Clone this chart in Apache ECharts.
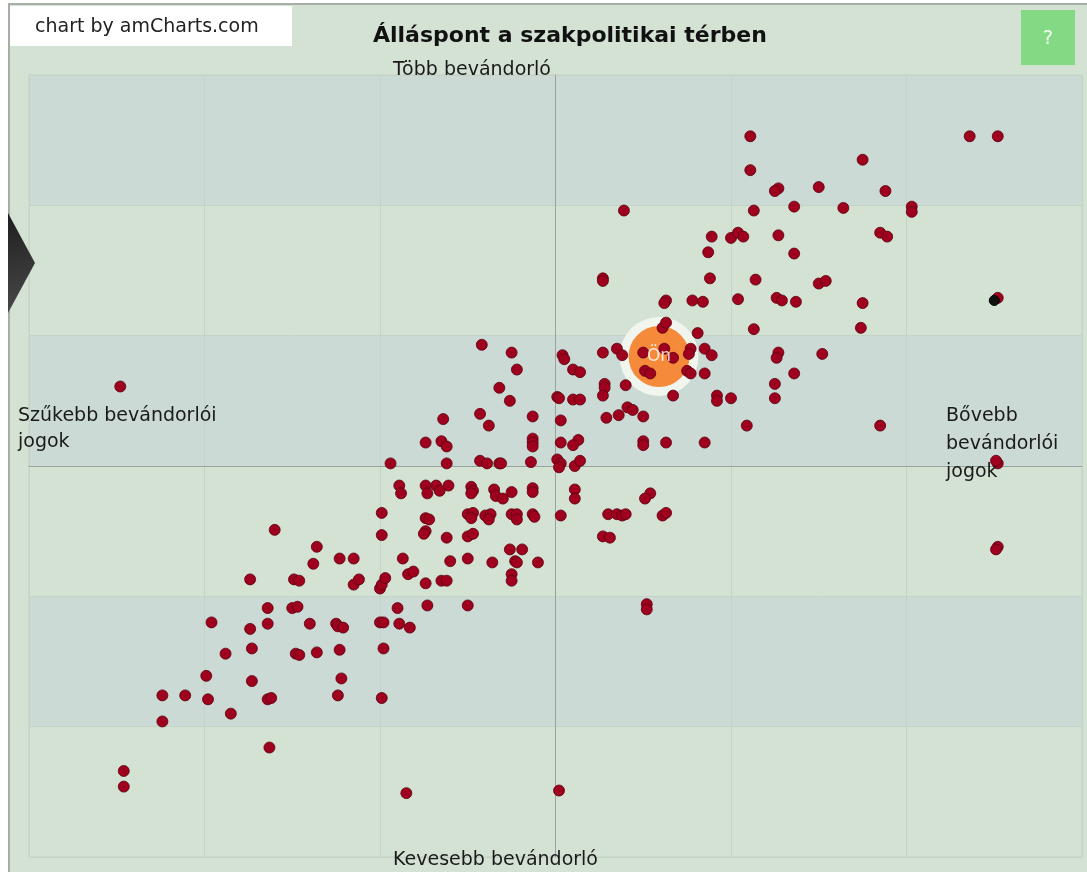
<!DOCTYPE html>
<html><head><meta charset="utf-8">
<script src="https://cdn.jsdelivr.net/npm/echarts@6/dist/echarts.min.js"></script>
<style>
html,body{margin:0;padding:0;background:#fff;}
#frame{position:absolute;left:8px;top:3px;width:1079px;height:869px;background:#d4e2d4;border-left:2px solid #a7aea7;border-top:2px solid #a7aea7;box-sizing:border-box;}
#chart{position:absolute;left:0;top:0;width:1087px;height:872px;}
</style></head>
<body><div id="frame"></div><div id="chart"></div>
<script>
// ---- data ----
const chartTitle = 'Álláspont a szakpolitikai térben';
const labelTop = 'Több bevándorló';
const labelBottom = 'Kevesebb bevándorló';
const labelLeft = ['Szűkebb bevándorlói', 'jogok'];
const labelRight = ['Bővebb', 'bevándorlói', 'jogok'];
const creditText = 'chart by amCharts.com';
const youLabel = 'Ön';
const axisMin = -3, axisMax = 3, axisStep = 1;
// [rights axis, immigration axis]
const respondents = [
 [1.11,2.53],[1.75,2.35],[1.11,2.27],[1.27,2.13],[1.25,2.11],[1.50,2.14],[1.88,2.11],[0.39,1.96],[1.13,1.96],[1.36,1.99],[1.64,1.98],[2.03,1.99],[2.03,1.95],[0.89,1.76],[1.00,1.75],[1.04,1.79],[1.07,1.76],[1.27,1.77],[1.85,1.79],[1.89,1.76],[0.87,1.64],[1.36,1.63],[0.27,1.44],[0.27,1.42],[0.88,1.44],[1.14,1.43],[1.50,1.40],[1.54,1.42],[0.63,1.27],[0.62,1.25],[0.78,1.27],[0.84,1.26],[1.04,1.28],[1.26,1.29],[1.29,1.27],[1.37,1.26],[1.75,1.25],[0.61,1.06],[0.63,1.10],[0.81,1.02],[1.13,1.05],[1.74,1.06],[2.36,2.53],[2.52,2.53],[2.52,1.29],
 [-0.42,0.93],[-0.25,0.87],[-0.22,0.74],[0.04,0.85],[0.05,0.82],[0.27,0.87],[0.35,0.90],[0.38,0.85],[0.50,0.87],[0.62,0.90],[0.10,0.74],[0.14,0.72],[0.51,0.73],[0.54,0.71],[-0.32,0.60],[-0.26,0.50],[0.01,0.53],[0.02,0.52],[0.10,0.51],[0.14,0.51],[0.28,0.63],[0.28,0.60],[0.27,0.54],[0.40,0.62],[-0.64,0.36],[-0.43,0.40],[-0.38,0.31],[-0.13,0.38],[0.03,0.35],[0.29,0.37],[0.36,0.39],[0.41,0.45],[0.44,0.43],[0.50,0.38],[-0.74,0.18],[-0.65,0.19],[-0.62,0.15],[-0.13,0.21],[-0.13,0.18],[-0.13,0.15],[0.03,0.18],[0.13,0.20],[0.10,0.16],[0.50,0.19],[0.50,0.16],[0.63,0.18],[-0.94,0.02],[-0.62,0.02],[-0.43,0.04],[-0.39,0.02],[-0.32,0.02],[-0.31,0.02],[-0.14,0.03],[0.01,0.05],[0.03,0.02],[0.02,-0.01],[0.11,0.00],[0.14,0.04],
 [-0.89,-0.15],[-0.88,-0.21],[-0.74,-0.15],[-0.73,-0.21],[-0.68,-0.15],[-0.66,-0.19],[-0.61,-0.15],[-0.48,-0.16],[-0.47,-0.19],[-0.48,-0.21],[-0.35,-0.18],[-0.34,-0.23],[-0.30,-0.25],[-0.25,-0.20],[-0.13,-0.17],[-0.13,-0.20],[0.11,-0.18],[0.11,-0.25],[0.54,-0.21],[0.51,-0.25],[-0.99,-0.36],[-0.74,-0.40],[-0.72,-0.41],[-0.50,-0.37],[-0.47,-0.36],[-0.48,-0.40],[-0.40,-0.38],[-0.37,-0.37],[-0.38,-0.41],[-0.25,-0.37],[-0.22,-0.37],[-0.22,-0.41],[-0.13,-0.37],[-0.12,-0.39],[0.03,-0.38],[0.30,-0.37],[0.35,-0.37],[0.38,-0.38],[0.40,-0.37],[0.61,-0.38],[0.63,-0.36],[-0.99,-0.53],[-0.74,-0.50],[-0.75,-0.52],[-0.62,-0.55],[-0.50,-0.54],[-0.47,-0.52],[0.27,-0.54],[0.31,-0.55],[-0.26,-0.64],[-0.19,-0.64],[-0.87,-0.71],[-0.60,-0.73],[-0.50,-0.71],[-0.36,-0.74],[-0.23,-0.73],[-0.22,-0.74],[-0.10,-0.74],
 [0.67,0.83],[0.77,0.90],[0.76,0.86],[0.85,0.90],[0.89,0.85],[1.27,0.87],[1.26,0.83],[1.52,0.86],[0.75,0.73],[0.77,0.71],[0.85,0.71],[1.36,0.71],[1.25,0.63],[0.67,0.54],[0.92,0.54],[0.92,0.50],[1.00,0.52],[1.25,0.52],[1.09,0.31],[0.85,0.18],[1.85,0.31],[2.52,0.02],[2.51,0.04],[0.52,-1.06],[0.52,-1.10],[2.52,-0.62],[2.51,-0.64],
 [-2.48,0.61],[-1.60,-0.49],[-1.36,-0.62],[-1.23,-0.71],[-1.15,-0.71],[-1.38,-0.75],[-1.74,-0.87],[-1.49,-0.87],[-1.46,-0.88],[-1.15,-0.91],[-1.12,-0.87],[-1.00,-0.94],[-0.99,-0.91],[-0.97,-0.86],[-0.84,-0.83],[-0.81,-0.81],[-0.74,-0.90],[-0.65,-0.88],[-0.62,-0.88],[-0.25,-0.83],[-0.25,-0.88],[-0.73,-1.07],[-0.50,-1.07],[-1.64,-1.09],[-1.50,-1.09],[-1.47,-1.08],[-0.90,-1.09],[-1.96,-1.20],[-1.74,-1.25],[-1.64,-1.21],[-1.40,-1.21],[-1.25,-1.21],[-1.24,-1.23],[-1.21,-1.24],[-1.00,-1.20],[-0.98,-1.20],[-0.89,-1.21],[-0.83,-1.24],[-1.88,-1.44],[-1.73,-1.40],[-1.48,-1.44],[-1.46,-1.45],[-1.36,-1.43],[-1.23,-1.41],[-0.98,-1.40],[-1.99,-1.61],[-1.73,-1.65],[-1.22,-1.63],[-2.24,-1.76],[-2.11,-1.76],[-1.98,-1.79],[-1.64,-1.79],[-1.62,-1.78],[-1.24,-1.76],[-0.99,-1.78],[-1.85,-1.90],[-2.24,-1.96],[-1.63,-2.16],[-2.46,-2.34],[-2.46,-2.46],[-0.85,-2.51],[0.02,-2.49]
];
const youPoint = [[0.59, 0.84]];
const markedPoint = [[2.50, 1.27]];

// ---- chart ----
const FONT = 'DejaVu Sans';
const chart = echarts.init(document.getElementById('chart'), null, {renderer: 'canvas'});
function txt(text, x, y, size, opts) {
  return Object.assign({type: 'text', x: x, y: y, z: 100,
    style: Object.assign({text: text, font: (size) + 'px "' + FONT + '"', fill: '#1a1a1a', textVerticalAlign: 'middle', verticalAlign: 'middle'}, opts || {})});
}
const option = {
  backgroundColor: 'transparent',
  animation: false,
  textStyle: {fontFamily: FONT},
  title: {text: chartTitle, left: 373, top: 25, padding: 0,
    textStyle: {fontSize: 22, fontWeight: 'bold', color: '#111', fontFamily: FONT}},
  grid: {left: 29, right: 5, top: 75, bottom: 15, show: true, borderColor: '#c4d3c6', borderWidth: 1, backgroundColor: 'transparent'},
  xAxis: {type: 'value', min: axisMin, max: axisMax, interval: axisStep,
    axisLine: {show: true, onZero: true, lineStyle: {color: '#98a39c', width: 1}},
    axisTick: {show: false}, axisLabel: {show: false},
    splitLine: {show: true, lineStyle: {color: '#c4d3c6', width: 1}}},
  yAxis: {type: 'value', min: axisMin, max: axisMax, interval: axisStep,
    axisLine: {show: true, onZero: true, lineStyle: {color: '#98a39c', width: 1}},
    axisTick: {show: false}, axisLabel: {show: false},
    splitLine: {show: true, lineStyle: {color: '#c4d3c6', width: 1}},
    splitArea: {show: true, areaStyle: {color: ['rgba(0,0,0,0)', '#cbdad4']}}},
  graphic: [
    {type: 'rect', shape: {x: 10, y: 6, width: 282, height: 40}, style: {fill: '#ffffff'}, z: 90},
    txt(creditText, 35, 27, 19, {fill: '#222'}),
    {type: 'rect', shape: {x: 1021, y: 10, width: 54, height: 55}, style: {fill: '#84d984'}, z: 90},
    txt('?', 1048, 39, 19, {fill: '#f4fff4', textAlign: 'center', align: 'center'}),
    {type: 'polygon', shape: {points: [[8, 213], [35, 263], [8, 313]]}, z: 90,
      style: {fill: new echarts.graphic.LinearGradient(0, 0, 1, 1, [{offset: 0, color: '#1e1e1e'}, {offset: 1, color: '#4a4a4a'}])}},
    txt(labelTop, 393, 70, 19),
    txt(labelBottom, 393, 860, 19),
    txt(labelLeft[0], 18, 416, 19),
    txt(labelLeft[1], 18, 442, 19),
    txt(labelRight[0], 946, 416, 19),
    txt(labelRight[1], 946, 444, 19),
    txt(labelRight[2], 946, 472, 19)
  ],
  series: [
    {type: 'scatter', data: youPoint, symbolSize: 79, z: 2, silent: true,
      itemStyle: {color: '#f1f7ef', opacity: 0.95}},
    {type: 'scatter', data: youPoint, symbolSize: 61, z: 3, silent: true,
      itemStyle: {color: '#f58a3a', opacity: 1}},
    {type: 'scatter', data: respondents, symbolSize: 11, z: 4,
      itemStyle: {color: '#9f001e', borderColor: 'rgba(90,0,15,0.8)', borderWidth: 1, opacity: 1}},
    {type: 'scatter', data: markedPoint, symbolSize: 10, z: 5,
      itemStyle: {color: '#111', borderColor: '#000', borderWidth: 1, opacity: 1}},
    {type: 'scatter', data: youPoint, symbolSize: 1, z: 6, silent: true,
      itemStyle: {color: 'rgba(0,0,0,0)'},
      label: {show: true, position: 'inside', formatter: youLabel, color: '#ffffff', fontSize: 17, fontFamily: FONT}}
  ]
};
chart.setOption(option);
</script></body></html>
